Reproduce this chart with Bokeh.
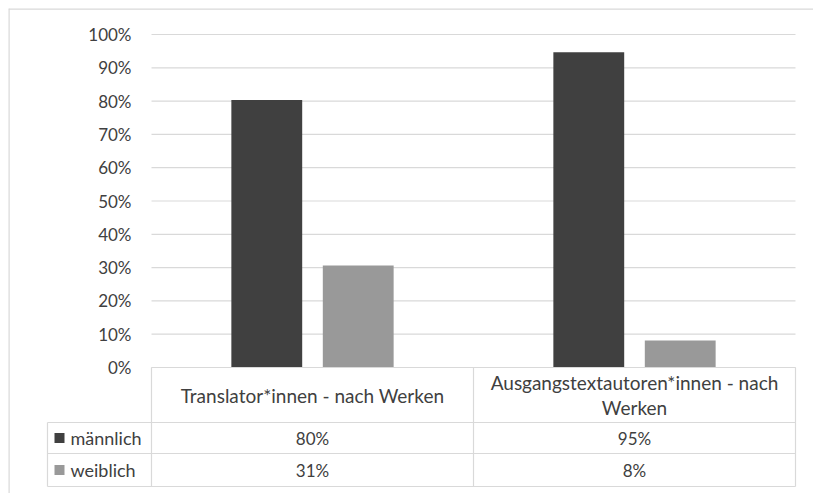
from bokeh.plotting import figure
from bokeh.models import Range1d, LinearAxis, FixedTicker, NumeralTickFormatter
from bokeh.core.properties import value
from bokeh.embed import file_html
from bokeh.resources import INLINE

# ---- data ----
categories = ["Translator*innen - nach Werken", "Ausgangstextautoren*innen - nach\nWerken"]
series_names = ["männlich", "weiblich"]
maennlich = [0.803, 0.947]
weiblich = [0.306, 0.081]
y_ticks = [0.0, 0.1, 0.2, 0.3, 0.4, 0.5, 0.6, 0.7, 0.8, 0.9, 1.0]
colors = ["#404040", "#999999"]

FONT = value("Lato")
TXT = "#404040"
LINE = "#d9d9d9"

# layout constants (pixels per data unit)
XU = 322.0
YU = 333.0
x0r, x1r = -143 / XU, 662 / XU
y0r, y1r = -126 / YU, 1 + 26 / YU

p = figure(width=813, height=493, output_backend="svg", toolbar_location=None,
           x_range=Range1d(x0r, x1r), y_range=Range1d(y0r, y1r),
           min_border_left=8, min_border_top=8, min_border_right=0, min_border_bottom=0,
           x_axis_type=None, y_axis_type=None)
p.outline_line_color = None
p.background_fill_color = "white"
p.border_fill_color = "white"
p.xgrid.visible = False
p.ygrid.visible = False

n = len(categories)

# outer chart border (top and left edges)
p.segment(x0=[x0r, x0r], x1=[x1r, x0r], y0=[y1r, y1r], y1=[y1r, y0r],
          line_color=LINE, line_width=2.4)

# gridlines
p.segment(x0=[0] * len(y_ticks), x1=[n] * len(y_ticks), y0=y_ticks, y1=y_ticks,
          line_color=LINE, line_width=1.2)

# bars
offsets = [-0.142, 0.142]
for s, vals in enumerate([maennlich, weiblich]):
    xs = [i + 0.5 + offsets[s] for i in range(n)]
    p.vbar(x=xs, top=vals, bottom=0, width=0.22, fill_color=colors[s], line_color=None)

# y axis
yaxis = LinearAxis(fixed_location=0, ticker=FixedTicker(ticks=y_ticks),
                   formatter=NumeralTickFormatter(format="0%"), bounds=(0, 1))
yaxis.axis_line_color = None
yaxis.major_tick_line_color = None
yaxis.minor_tick_line_color = None
yaxis.major_label_standoff = 14
yaxis.major_label_text_font = "Lato"
yaxis.major_label_text_font_size = "17px"
yaxis.major_label_text_color = TXT
p.add_layout(yaxis, "left")

# data table
header_bottom = -55 / YU
row1_bottom = -86 / YU
row2_bottom = -119 / YU
legend_left = -104 / XU

# horizontal lines
p.segment(x0=[0, legend_left, legend_left, legend_left], x1=[n, n, n, n],
          y0=[0, header_bottom, row1_bottom, row2_bottom],
          y1=[0, header_bottom, row1_bottom, row2_bottom],
          line_color=LINE, line_width=1.2)
# vertical lines
vx = list(range(n + 1))
p.segment(x0=vx, x1=vx, y0=[0] * len(vx), y1=[row2_bottom] * len(vx),
          line_color=LINE, line_width=1.2)
p.segment(x0=[legend_left], x1=[legend_left], y0=[header_bottom], y1=[row2_bottom],
          line_color=LINE, line_width=1.2)

# header labels
p.text(x=[i + 0.5 for i in range(n)], y=[header_bottom / 2] * n, text=categories,
       text_font=FONT, text_font_size="19px", text_color=TXT,
       text_align="center", text_baseline="middle", text_line_height=1.12)

# value rows
row_mids = [(header_bottom + row1_bottom) / 2, (row1_bottom + row2_bottom) / 2]
for s, vals in enumerate([maennlich, weiblich]):
    labels = [f"{round(v * 100)}%" for v in vals]
    p.text(x=[i + 0.5 for i in range(n)], y=[row_mids[s]] * n, text=labels,
           text_font=FONT, text_font_size="17px", text_color=TXT,
           text_align="center", text_baseline="middle")

# legend keys in table
p.scatter(x=[-92 / XU] * 2, y=row_mids, marker="square", size=10,
          fill_color=colors, line_color=None)
p.text(x=[-81 / XU] * 2, y=row_mids, text=series_names,
       text_font=FONT, text_font_size="18px", text_color=TXT,
       text_align="left", text_baseline="middle")

open("out.html", "w").write(file_html(p, INLINE))
